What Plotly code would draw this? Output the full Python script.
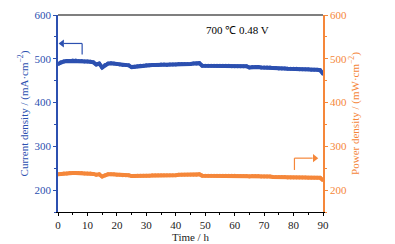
import plotly.graph_objects as go

time_h = list(range(0, 91))
current = [
    488, 492, 494, 495, 495, 496, 496, 495, 495, 494,
    494, 493, 492, 487, 489, 480, 486, 489, 490, 489,
    488, 487, 486, 486, 485, 481, 482, 483, 484, 484,
    485, 485, 486, 486, 486, 487, 487, 486, 487, 487,
    487, 488, 488, 488, 488, 488, 489, 489, 490, 484,
    484, 484, 484, 484, 484, 484, 484, 484, 484, 483,
    483, 483, 483, 483, 483, 480, 481, 481, 481, 480,
    480, 480, 480, 479, 479, 478, 478, 478, 477, 477,
    477, 477, 476, 476, 476, 476, 475, 475, 475, 474,
    466]
power = [
    236, 237, 238, 238, 239, 239, 239, 239, 239, 238,
    238, 238, 237, 235, 236, 231, 234, 236, 236, 236,
    235, 235, 234, 234, 234, 232, 232, 233, 233, 233,
    233, 233, 234, 234, 234, 234, 234, 234, 234, 234,
    234, 235, 235, 235, 235, 235, 235, 235, 236, 233,
    233, 233, 233, 233, 233, 233, 233, 233, 233, 233,
    233, 232, 232, 232, 232, 231, 232, 232, 232, 231,
    231, 231, 231, 230, 230, 230, 230, 230, 229, 229,
    229, 229, 229, 229, 229, 228, 228, 228, 228, 228,
    223]
x_ticks = [0, 10, 20, 30, 40, 50, 60, 70, 80, 90]
y_ticks = [200, 300, 400, 500, 600]

BLUE = "#2c50b0"
ORANGE = "#f5873a"
FONT = "Liberation Serif, Times New Roman, serif"

fig = go.Figure()
fig.add_trace(go.Scatter(x=time_h, y=current, mode="lines+markers",
                         line=dict(color=BLUE, width=4),
                         marker=dict(color=BLUE, size=4), yaxis="y"))
fig.add_trace(go.Scatter(x=time_h, y=power, mode="lines+markers",
                         line=dict(color=ORANGE, width=4),
                         marker=dict(color=ORANGE, size=4), yaxis="y2"))

# arrow heads as markers
fig.add_trace(go.Scatter(x=[1.4], y=[535], mode="markers", yaxis="y",
                         marker=dict(symbol="triangle-left", size=7, color=BLUE),
                         hoverinfo="skip"))
fig.add_trace(go.Scatter(x=[87.2], y=[273], mode="markers", yaxis="y2",
                         marker=dict(symbol="triangle-right", size=7, color=ORANGE),
                         hoverinfo="skip"))

fig.update_layout(
    width=387, height=236,
    margin=dict(l=50, r=72, t=7, b=32),
    paper_bgcolor="white", plot_bgcolor="white",
    showlegend=False,
    font=dict(family=FONT, size=11, color="#222222"),
    xaxis=dict(range=[0, 90], tickvals=x_ticks, showgrid=False, zeroline=False,
               automargin=False,
               showline=True, linecolor="black", linewidth=1.2, mirror=False,
               ticks="outside", ticklen=3, tickcolor="black",
               minor=dict(dtick=5, ticks="outside", ticklen=2, tickcolor="black"),
               title=dict(text="Time / h", standoff=0, font=dict(size=11, family=FONT)),
               tickfont=dict(size=11, family=FONT)),
    yaxis=dict(range=[150, 600], tickvals=y_ticks, showgrid=False, zeroline=False,
               automargin=False,
               showline=True, linecolor=BLUE, linewidth=1.5,
               ticks="outside", ticklen=3, tickcolor=BLUE,
               minor=dict(dtick=50, ticks="outside", ticklen=2, tickcolor=BLUE),
               tickfont=dict(color=BLUE, size=11, family=FONT),
               title=dict(text="Current density / (mA·cm<sup>−2</sup>)",
                          font=dict(color=BLUE, size=11, family=FONT), standoff=4)),
    yaxis2=dict(range=[150, 600], tickvals=y_ticks, overlaying="y", side="right",
                automargin=False,
                showgrid=False, zeroline=False,
                showline=True, linecolor=ORANGE, linewidth=1.5,
                ticks="outside", ticklen=3, tickcolor=ORANGE,
                minor=dict(dtick=50, ticks="outside", ticklen=2, tickcolor=ORANGE),
                tickfont=dict(color=ORANGE, size=11, family=FONT),
                title=dict(text="Power density / (mW·cm<sup>−2</sup>)",
                           font=dict(color=ORANGE, size=11, family=FONT), standoff=2)),
)

# top frame line
fig.add_shape(type="line", xref="paper", yref="paper", x0=0, x1=1, y0=1, y1=1,
              line=dict(color="black", width=1.2))

# blue arrow shaft (pointing to left axis)
fig.add_shape(type="line", xref="x", yref="y", x0=8.2, x1=8.2, y0=510, y1=535,
              line=dict(color=BLUE, width=1.2))
fig.add_shape(type="line", xref="x", yref="y", x0=8.2, x1=2, y0=535, y1=535,
              line=dict(color=BLUE, width=1.2))
# orange arrow shaft (pointing to right axis)
fig.add_shape(type="line", xref="x", yref="y2", x0=80.3, x1=80.3, y0=246, y1=273,
              line=dict(color=ORANGE, width=1.2))
fig.add_shape(type="line", xref="x", yref="y2", x0=80.3, x1=86.5, y0=273, y1=273,
              line=dict(color=ORANGE, width=1.2))

fig.add_annotation(x=61, y=566, xref="x", yref="y", text="700 ℃ 0.48 V",
                   showarrow=False, font=dict(family=FONT, size=11, color="black"))

fig.write_html("out.html")
